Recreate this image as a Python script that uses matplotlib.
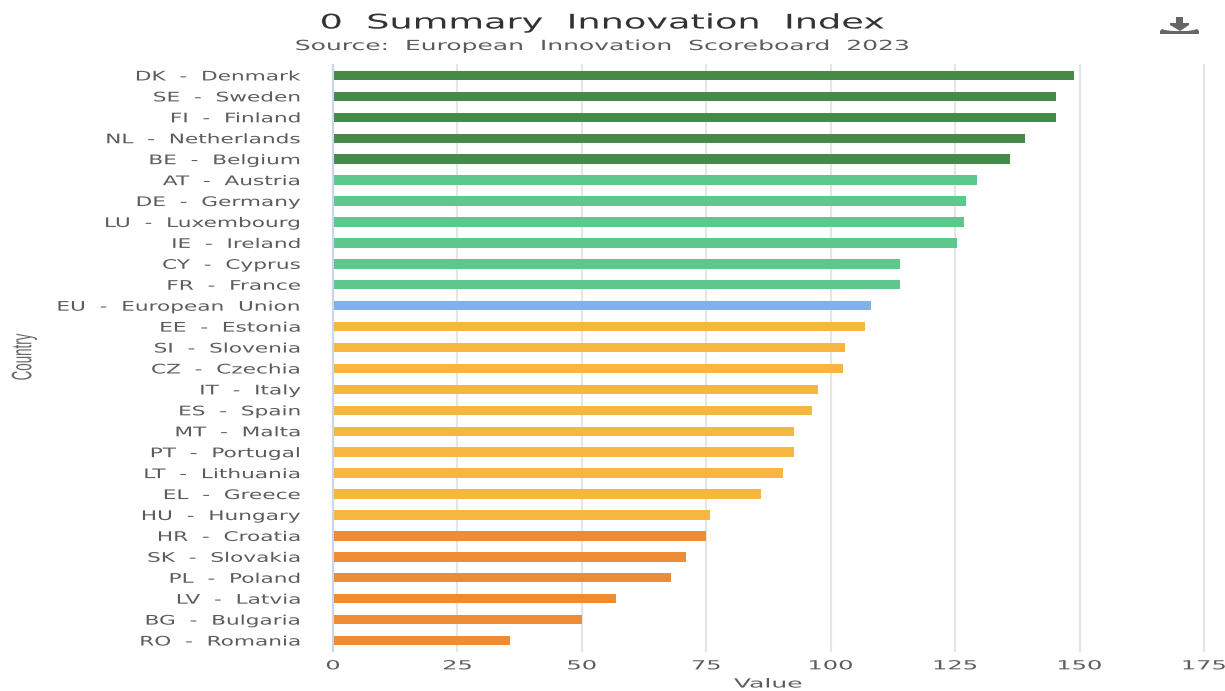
import matplotlib
matplotlib.use("Agg")
import matplotlib.pyplot as plt
from matplotlib.patches import Polygon
from matplotlib.patheffects import AbstractPathEffect
from matplotlib.transforms import Affine2D

countries = ["DK - Denmark","SE - Sweden","FI - Finland","NL - Netherlands","BE - Belgium",
             "AT - Austria","DE - Germany","LU - Luxembourg","IE - Ireland","CY - Cyprus","FR - France",
             "EU - European Union","EE - Estonia","SI - Slovenia","CZ - Czechia","IT - Italy","ES - Spain",
             "MT - Malta","PT - Portugal","LT - Lithuania","EL - Greece","HU - Hungary",
             "HR - Croatia","SK - Slovakia","PL - Poland","LV - Latvia","BG - Bulgaria","RO - Romania"]
values = [148.9,145.3,145.3,139.1,136.1,129.4,127.2,126.8,125.4,114.0,114.0,108.1,106.9,102.9,102.5,
          97.5,96.3,92.7,92.7,90.5,86.0,75.8,75.0,71.0,67.9,56.9,50.0,35.6]
groups = ["leader"]*5 + ["strong"]*6 + ["eu"] + ["moderate"]*10 + ["emerging"]*6
palette = {"leader":"#468a4a","strong":"#5ec88c","eu":"#82b1e6","moderate":"#f6b740","emerging":"#ee8c35"}
xticks = [0,25,50,75,100,125,150,175]


class Stretch(AbstractPathEffect):
    """Draw a text's outline scaled about its own box (the source image is stretched sideways)."""
    def __init__(self, sx=1.0, sy=1.0, anchor="center"):
        super().__init__()
        self.sx, self.sy, self.anchor = sx, sy, anchor

    def draw_path(self, renderer, gc, tpath, affine, rgbFace=None):
        box = tpath.transformed(affine).get_extents()
        ax_ = {"right": box.x1, "left": box.x0, "center": (box.x0 + box.x1) / 2}[self.anchor]
        ay_ = (box.y0 + box.y1) / 2
        scaled = affine + Affine2D().translate(-ax_, -ay_).scale(self.sx, self.sy).translate(ax_, ay_)
        renderer.draw_path(gc, tpath, scaled, rgbFace)


W,H = 1225,691
fig = plt.figure(figsize=(W/100,H/100),dpi=100,facecolor="white")
L,R,T,B = 333,1204,65,651
ax = fig.add_axes([L/W,1-B/H,(R-L)/W,(B-T)/H])
ypos = list(range(len(countries)))
ax.barh(ypos,values,height=0.45,color=[palette[g] for g in groups],zorder=3)
ax.set_xlim(0,175); ax.set_ylim(len(countries)-0.5,-0.5)
for s in ["top","right","bottom"]:
    ax.spines[s].set_visible(False)
ax.spines["left"].set_color("#ccd6eb"); ax.spines["left"].set_linewidth(1.5); ax.spines["left"].set_zorder(4)
ax.set_xticks(xticks)
ax.grid(axis="x",color="#e6e6e6",lw=1.6,zorder=0)
for g in ax.get_xgridlines():
    g.set_clip_on(False)
ax.tick_params(length=0)
ax.set_yticks(ypos)
ax.set_yticklabels([c.replace(" - ","  -  ").replace("European Union","European  Union") for c in countries],
                   fontsize=9.5,color="#5c5c5c",family="DejaVu Sans",ha="right")
ax.tick_params(axis="y",pad=23)
ax.tick_params(axis="x",pad=6)
for t in ax.get_yticklabels():
    t.set_path_effects([Stretch(1.64,1.0,"right")])
for t in ax.get_xticklabels():
    t.set_fontsize(9); t.set_color("#5c5c5c"); t.set_family("DejaVu Sans")
    t.set_path_effects([Stretch(1.93,1.0,"center")])

t1 = fig.text(603/W,1-23/H,"0  Summary  Innovation  Index",ha="center",va="center",fontsize=14.5,color="#333333",family="DejaVu Sans")
t1.set_path_effects([Stretch(1.82)])
t2 = fig.text(602/W,1-46/H,"Source:  European  Innovation  Scoreboard  2023",ha="center",va="center",fontsize=10,color="#5c5c5c",family="DejaVu Sans")
t2.set_path_effects([Stretch(1.8)])
t3 = fig.text(768/W,1-684/H,"Value",ha="center",va="center",fontsize=9,color="#5c5c5c",family="DejaVu Sans")
t3.set_path_effects([Stretch(2.0)])
t4 = fig.text(24/W,1-357/H,"Country",rotation=90,ha="center",va="center",fontsize=15,color="#666666",family="Liberation Sans")
t4.set_path_effects([Stretch(1.35,0.64)])

# download icon
def P(pts):
    return [(x/W,1-y/H) for x,y in pts]
fig.add_artist(Polygon(P([(1176,17),(1183,17),(1183,23),(1189,23),(1189,25),(1180,31),(1170,25),(1170,23),(1176,23)]),closed=True,
                       transform=fig.transFigure,fc="#666666",ec="none"))
fig.add_artist(Polygon(P([(1160,31),(1162,29),(1165,30),(1172,31),(1187,31),(1194,30),(1197,29),(1199,31),(1199,34),(1160,34)]),closed=True,
                       transform=fig.transFigure,fc="#666666",ec="none"))
fig.savefig("out.png",dpi=100)
